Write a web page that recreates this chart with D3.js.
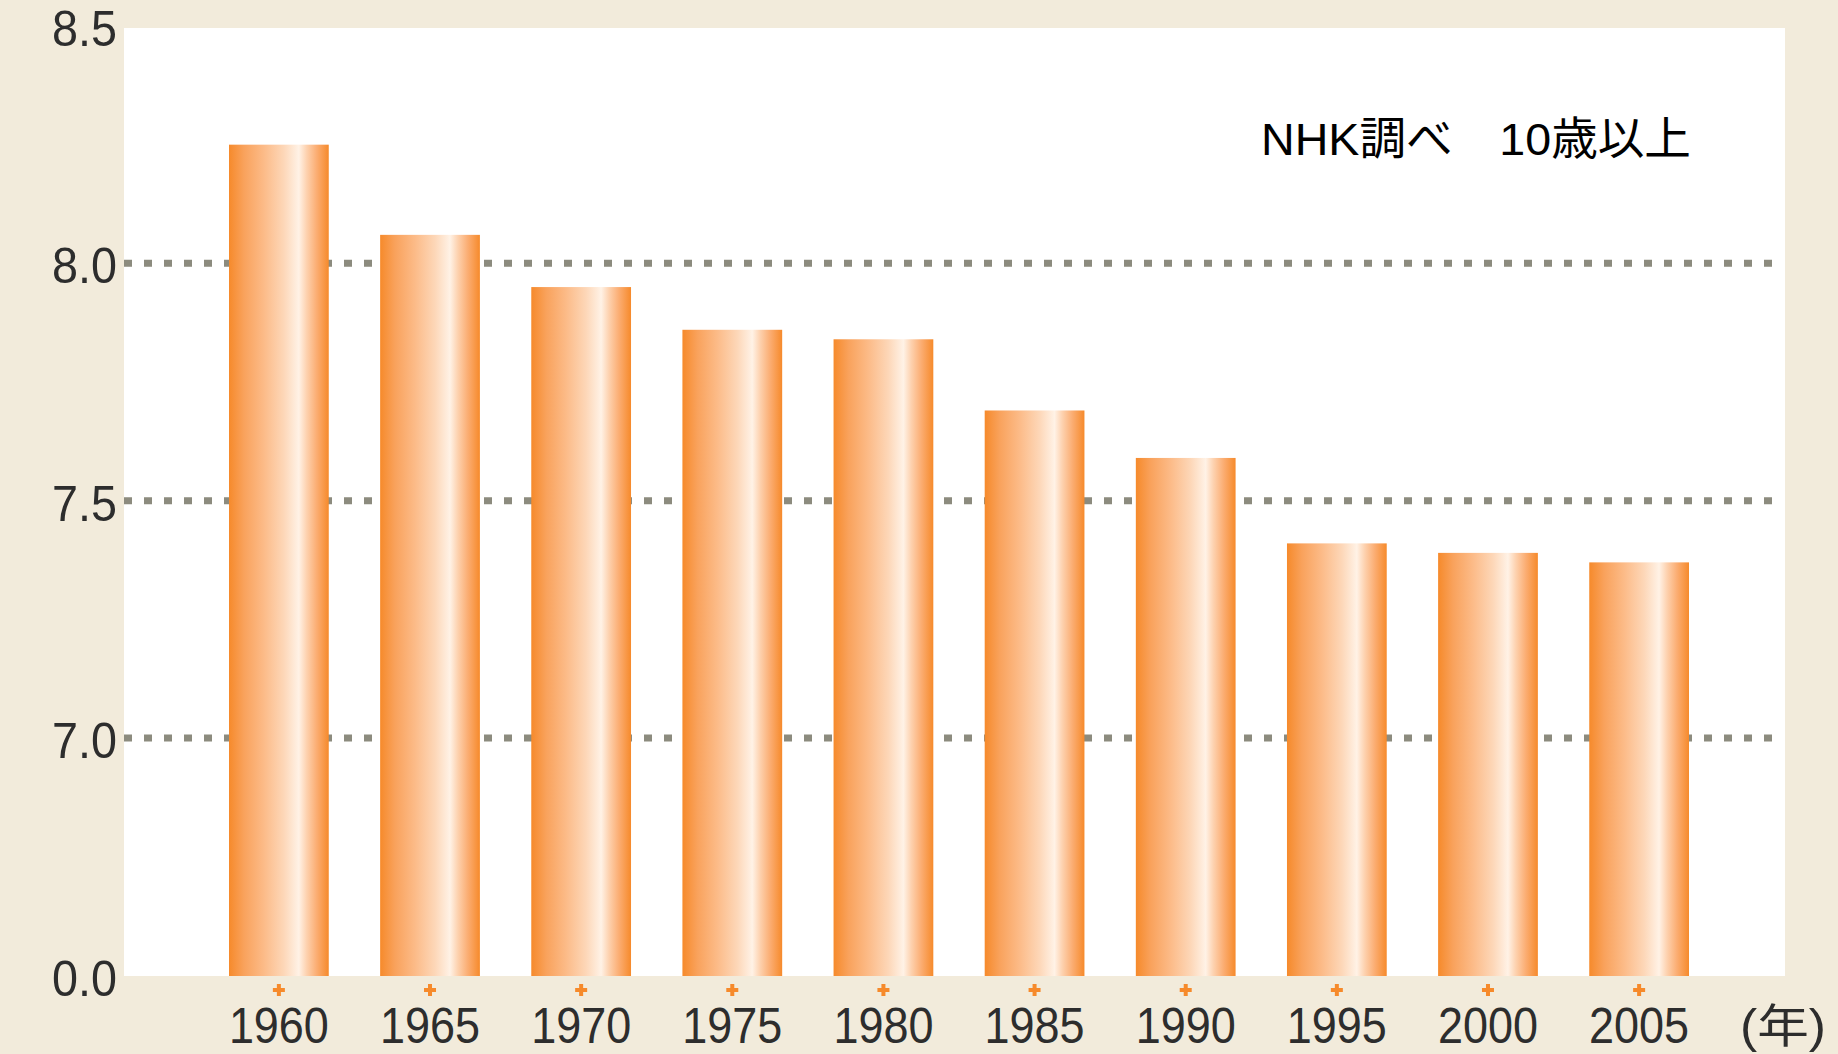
<!DOCTYPE html>
<html>
<head>
<meta charset="utf-8">
<script src="https://cdn.jsdelivr.net/npm/d3@7"></script>
<style>
  html, body { margin: 0; padding: 0; background: #f2ebdb; }
  svg { display: block; }
</style>
</head>
<body>
<div id="chart"></div>
<script>
// --- DATA ---
const years = ["1960", "1965", "1970", "1975", "1980", "1985", "1990", "1995", "2000", "2005"];
const values = [8.25, 8.06, 7.95, 7.86, 7.84, 7.69, 7.59, 7.41, 7.39, 7.37];
const yTicks = [0, 7.0, 7.5, 8.0, 8.5];
const gridValues = [7.0, 7.5, 8.0];
const note = "NHK調べ　10歳以上";
const unitLabel = "(年)";

// 1. SETUP
const width = 1838;
const height = 1054;
const plot = { left: 124, top: 28, right: 1785, bottom: 976 };

const svg = d3.select("#chart")
    .append("svg")
    .attr("width", width)
    .attr("height", height)
    .attr("viewBox", [0, 0, width, height]);

// beige page + white plot panel
svg.append("rect")
    .attr("width", width).attr("height", height)
    .attr("fill", "#f2ebdb");
svg.append("rect")
    .attr("x", plot.left).attr("y", plot.top)
    .attr("width", plot.right - plot.left)
    .attr("height", plot.bottom - plot.top)
    .attr("fill", "#ffffff");

// --- SCALES ---
// broken axis: 0 sits right under 7.0
const y = d3.scaleLinear()
    .domain([0, 7, 8.5])
    .range([plot.bottom, 738, 26]);

const x = d3.scaleBand()
    .domain(years)
    .range([229, 1689])
    .paddingInner(0.34)
    .paddingOuter(0);

// bar gradient (orange -> light -> orange)
const grad = svg.append("defs").append("linearGradient")
    .attr("id", "barGrad")
    .attr("x1", "0%").attr("x2", "100%")
    .attr("y1", "0%").attr("y2", "0%");
[
    [0, "#f68a2b"], [0.15, "#f9a25c"], [0.35, "#fcbb88"], [0.55, "#fdd7b8"],
    [0.70, "#fff2e6"], [0.78, "#fdd1ae"], [0.88, "#fbad72"], [1, "#f68a2b"]
].forEach(([o, c]) => grad.append("stop").attr("offset", o).attr("stop-color", c));

// --- GRID LINES (dotted) ---
svg.append("g")
    .selectAll("line")
    .data(gridValues)
    .join("line")
    .attr("x1", plot.left)
    .attr("x2", 1775)
    .attr("y1", d => y(d))
    .attr("y2", d => y(d))
    .attr("stroke", "#8c8b7e")
    .attr("stroke-width", 7)
    .attr("stroke-dasharray", "8,12");

// --- BARS ---
svg.append("g")
    .selectAll("rect")
    .data(values)
    .join("rect")
    .attr("x", (d, i) => x(years[i]))
    .attr("y", d => y(d))
    .attr("width", x.bandwidth())
    .attr("height", d => y(0) - y(d))
    .attr("fill", "url(#barGrad)");

// --- Y AXIS LABELS ---
svg.append("g")
    .selectAll("text")
    .data(yTicks)
    .join("text")
    .attr("x", 117)
    .attr("y", d => y(d) + 20)
    .attr("text-anchor", "end")
    .attr("font-family", "'Liberation Sans', Arial, sans-serif")
    .attr("font-size", 50)
    .attr("fill", "#2d2d2d")
    .attr("textLength", 65)
    .attr("lengthAdjust", "spacingAndGlyphs")
    .text(d => d.toFixed(1));

// --- X AXIS: small orange "+" ticks and year labels ---
const ticks = svg.append("g")
    .selectAll("g")
    .data(years)
    .join("g")
    .attr("transform", d => `translate(${x(d) + x.bandwidth() / 2}, 990)`);

ticks.append("path")
    .attr("d", "M-6,0H6M0,-6V6")
    .attr("stroke", "#f68a2b")
    .attr("stroke-width", 4);

svg.append("g")
    .selectAll("text")
    .data(years)
    .join("text")
    .attr("x", d => x(d) + x.bandwidth() / 2)
    .attr("y", 1043)
    .attr("text-anchor", "middle")
    .attr("font-family", "'Liberation Sans', Arial, sans-serif")
    .attr("font-size", 50)
    .attr("fill", "#2d2d2d")
    .attr("textLength", 100)
    .attr("lengthAdjust", "spacingAndGlyphs")
    .text(d => d);

// unit label
svg.append("text")
    .attr("x", 1740)
    .attr("y", 1042)
    .attr("font-family", "'Liberation Sans', 'Noto Sans CJK JP', sans-serif")
    .attr("font-size", 46)
    .attr("fill", "#2d2d2d")
    .attr("textLength", 86)
    .attr("lengthAdjust", "spacingAndGlyphs")
    .text(unitLabel);

// --- NOTE ---
svg.append("text")
    .attr("x", 1261)
    .attr("y", 155)
    .attr("font-family", "'Liberation Sans', 'Noto Sans CJK JP', sans-serif")
    .attr("font-size", 45)
    .attr("fill", "#000")
    .attr("textLength", 430)
    .attr("lengthAdjust", "spacingAndGlyphs")
    .text(note);
</script>
</body>
</html>
